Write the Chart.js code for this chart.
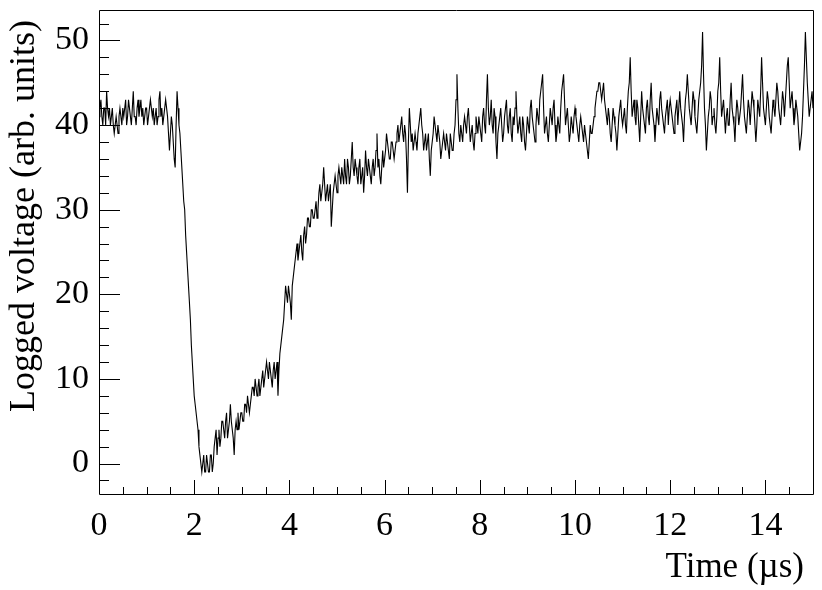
<!DOCTYPE html>
<html>
<head>
<meta charset="utf-8">
<script src="https://cdn.jsdelivr.net/npm/chart.js@4"></script>
<style>
  html, body { margin: 0; padding: 0; background: #ffffff; }
  #wrap { width: 822px; height: 590px; }
</style>
</head>
<body>
<div id="wrap"><canvas id="c" width="822" height="590"></canvas></div>
<script>
// Sampling step of the logged trace (µs)
const sampleStep = 0.02;

// Logged voltage samples (arb. units), one row per µs (50 samples each)
const voltage0 = [41,42,43,41,40,42,42,40,44,42,41,42,40,41,42,40,39,40,41,40,39,41,42,41,40,42,41,42,43,40,41,43,42,41,40,42,44,41,41,40,42,43,41,42,43,41,42,40,41,42];
const voltage1 = [42,40,41,42,43,42,41,42,40,41,42,40,41,43,44,41,42,40,41,42,43,42,41,39,37,39,41,40,38,36,35,40,44,42,40,39,37,35,33,31,30,27,25,23,21,19,17,14,12,10];
const voltage2 = [8,7,6,5,4,2,1,0,-1,0,1,-1,-1,1,0,-1,-1,1,1,-1,0,2,3,4,1,3,4,2,3,5,5,4,3,5,6,3,4,5,7,5,4,3,1,4,5,4,6,4,5,6];
const voltage3 = [6,5,5,7,7,6,8,7,6,7,8,9,9,8,10,9,8,9,10,8,9,10,11,9,10,11,12,11,10,12,11,10,9,11,12,10,11,12,8,11,13,14,15,16,17,19,21,20,19,21];
const voltage4 = [20,19,17,21,22,23,24,25,26,24,25,26,27,25,24,27,28,26,27,29,29,28,28,30,30,29,29,30,31,29,30,32,33,31,32,33,35,33,31,32,33,31,32,33,28,30,32,33,34,33];
const voltage5 = [32,34,35,34,33,35,34,33,36,34,33,36,35,33,34,36,38,35,34,36,35,34,33,35,36,33,34,35,32,34,37,35,34,36,35,34,33,35,36,34,35,37,39,35,36,34,33,35,37,35];
const voltage6 = [36,37,39,38,37,36,36,38,38,37,36,37,38,39,40,38,39,40,41,39,38,40,39,36,32,38,42,40,38,39,37,38,39,38,37,39,40,41,42,40,39,37,38,39,37,38,39,36,34,37];
const voltage7 = [38,39,41,40,39,38,40,39,38,36,37,38,39,38,37,39,38,37,36,39,38,37,37,39,40,43,46,42,39,38,40,39,38,40,41,40,39,41,42,40,38,39,40,38,37,39,41,40,39,41];
const voltage8 = [40,39,38,41,42,40,39,43,46,42,40,41,43,40,39,42,41,38,36,39,40,41,42,40,38,39,41,42,43,40,39,41,42,39,38,41,40,42,44,41,39,40,41,39,38,41,40,38,37,39];
const voltage9 = [41,40,39,42,43,41,40,39,38,40,42,41,40,43,44,45,46,42,39,40,41,39,38,40,42,41,40,42,43,40,38,39,41,40,39,42,44,45,46,43,40,41,42,40,38,39,41,40,39,41];
const voltage10 = [42,41,40,39,38,40,41,40,39,38,40,39,38,37,36,38,40,39,39,40,41,42,43,44,44,45,45,44,43,44,45,43,42,41,40,42,41,39,38,40,42,41,40,39,37,39,41,42,43,41];
const voltage11 = [40,41,42,40,39,42,44,45,48,44,41,42,43,41,40,43,42,40,38,41,44,42,41,40,39,42,43,41,40,43,45,42,41,40,38,40,42,41,40,43,44,42,41,40,39,41,42,43,40,42];
const voltage12 = [43,42,41,40,39,41,42,43,40,42,44,42,41,40,38,41,43,44,46,44,42,41,40,42,44,43,41,40,39,41,43,44,45,47,51,46,42,40,37,39,41,42,44,43,40,41,42,40,39,41];
const voltage13 = [44,45,48,44,41,42,43,41,39,41,42,40,40,43,45,42,41,40,38,41,43,42,40,41,42,44,46,43,41,40,39,41,43,42,40,42,44,43,42,40,38,40,43,42,41,44,48,45,42,41];
const voltage14 = [40,42,44,43,41,40,39,41,43,42,41,43,45,44,42,41,40,42,44,43,41,43,45,47,48,45,42,43,44,42,40,41,43,42,41,39,37,38,39,41,44,47,51,48,45,43,41,42,43,44,42];

// Axis tick values and titles
const xMajorTicks = [0, 2, 4, 6, 8, 10, 12, 14];
const yMajorTicks = [0, 10, 20, 30, 40, 50];
const xTitle = 'Time (µs)';
const yTitle = 'Logged voltage (arb. units)';

const voltage = [].concat(voltage0, voltage1, voltage2, voltage3, voltage4, voltage5, voltage6,
  voltage7, voltage8, voltage9, voltage10, voltage11, voltage12, voltage13, voltage14);
const times = voltage.map((_, i) => Math.round(i * sampleStep * 1000) / 1000);
const points = voltage.map((v, i) => ({ x: times[i], y: v }));

const FONT = "'Liberation Serif', 'DejaVu Serif', serif";

const rootFrame = {
  id: 'rootFrame',
  afterDraw(chart) {
    const { ctx, chartArea: a, scales: { x, y } } = chart;
    ctx.save();
    ctx.strokeStyle = '#000';
    ctx.lineWidth = 1;
    ctx.beginPath();
    // frame
    ctx.rect(Math.round(a.left) + 0.5, Math.round(a.top) + 0.5,
             Math.round(a.right - a.left), Math.round(a.bottom - a.top));
    // x ticks (inside, pointing up)
    for (let k = 0; k <= 30; k++) {
      const v = k * 0.5;
      const px = Math.round(x.getPixelForValue(v)) + 0.5;
      const len = (k % 4 === 0) ? 14 : 7;
      ctx.moveTo(px, a.bottom);
      ctx.lineTo(px, a.bottom - len);
    }
    // y ticks (inside, pointing right)
    for (let v = -2; v <= 52; v += 2) {
      const py = Math.round(y.getPixelForValue(v)) + 0.5;
      const len = (v % 10 === 0) ? 21 : 10;
      ctx.moveTo(a.left, py);
      ctx.lineTo(a.left + len, py);
    }
    ctx.stroke();

    // axis titles (ROOT style: aligned to the end of the axis)
    ctx.fillStyle = '#000';
    ctx.font = '35px ' + FONT;
    ctx.textAlign = 'right';
    ctx.textBaseline = 'alphabetic';
    ctx.fillText(xTitle, a.right - 9, 577);

    ctx.font = '36px ' + FONT;
    ctx.translate(34, 412);
    ctx.rotate(-Math.PI / 2);
    ctx.textAlign = 'left';
    ctx.fillText(yTitle, 0, 0);
    ctx.restore();
  }
};

new Chart(document.getElementById('c'), {
  type: 'line',
  data: {
    datasets: [{
      data: points,
      borderColor: '#000',
      borderWidth: 1.1,
      pointRadius: 0,
      tension: 0,
      fill: false
    }]
  },
  options: {
    responsive: false,
    animation: false,
    devicePixelRatio: 1,
    layout: { padding: { left: 0, right: 9, top: 10, bottom: 0 } },
    plugins: { legend: { display: false }, tooltip: { enabled: false } },
    scales: {
      x: {
        type: 'linear',
        min: 0, max: 15,
        grid: { display: false, drawTicks: false },
        border: { display: false },
        afterFit: s => { s.height = 96; s.paddingLeft = 0; s.paddingRight = 0; },
        afterBuildTicks: s => { s.ticks = xMajorTicks.map(v => ({ value: v })); },
        ticks: {
          color: '#000', padding: 12, maxRotation: 0,
          font: { family: FONT, size: 34 }
        },
        title: { display: false }
      },
      y: {
        type: 'linear',
        min: -3.6, max: 53.6,
        grid: { display: false, drawTicks: false },
        border: { display: false },
        afterFit: s => { s.width = 99; s.paddingTop = 0; s.paddingBottom = 0; },
        afterBuildTicks: s => { s.ticks = yMajorTicks.map(v => ({ value: v })); },
        ticks: {
          color: '#000', padding: 10,
          font: { family: FONT, size: 34 }
        },
        title: { display: false }
      }
    }
  },
  plugins: [rootFrame]
});
</script>
</body>
</html>
